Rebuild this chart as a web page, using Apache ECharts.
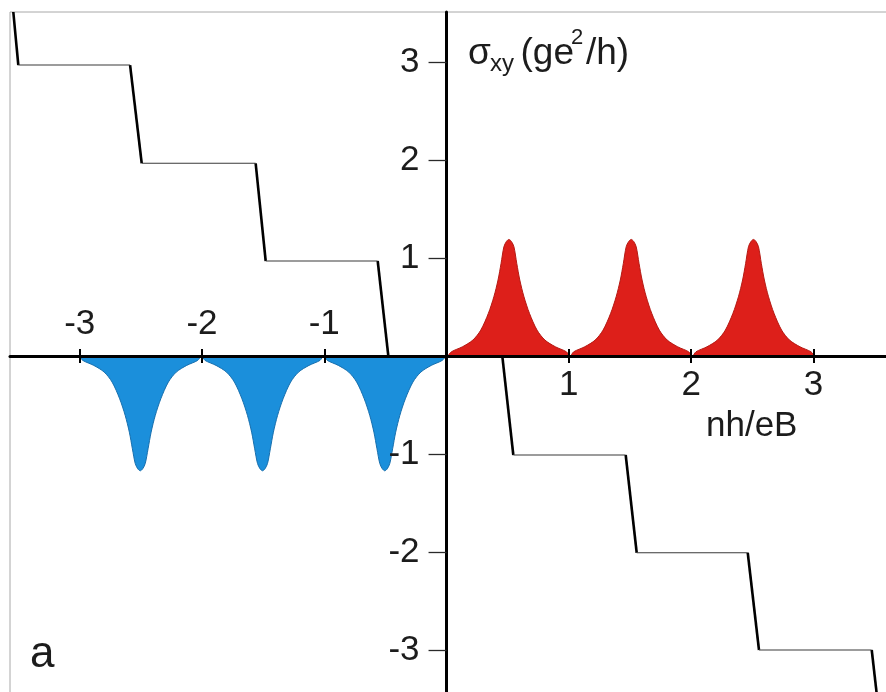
<!DOCTYPE html>
<html>
<head>
<meta charset="utf-8">
<script src="https://cdn.jsdelivr.net/npm/echarts@6/dist/echarts.min.js"></script>
<style>
  html, body { margin: 0; padding: 0; background: #ffffff; }
  #chart { width: 886px; height: 692px; }
</style>
</head>
<body>
<div id="chart"></div>
<script>
// Quantum Hall conductance staircase: corner points of the polyline (x = nh/eB, y = sigma_xy)
const hallX = [-3.543, -3.502, -2.588, -2.493, -1.561, -1.479, -0.563, -0.476,
               0.456, 0.546, 1.465, 1.555, 2.463, 2.555, 3.477, 3.532];
const hallY = [3.51, 2.969, 2.969, 1.967, 1.967, 0.970, 0.970, 0,
               0, -1.009, -1.009, -2.006, -2.006, -2.998, -2.998, -3.6];

// Electron-side density-of-states peaks (red)
const electronX = [
  0.01, 0.04, 0.13, 0.215, 0.28, 0.342, 0.387, 0.421, 0.446, 0.469, 0.49, 0.51,
  0.53, 0.551, 0.574, 0.599, 0.633, 0.678, 0.74, 0.805, 0.89, 0.98, 1.01,
  1.04, 1.13, 1.215, 1.28, 1.342, 1.387, 1.421, 1.446, 1.469, 1.49, 1.51,
  1.53, 1.551, 1.574, 1.599, 1.633, 1.678, 1.74, 1.805, 1.89, 1.98, 2.01,
  2.04, 2.13, 2.215, 2.28, 2.342, 2.387, 2.421, 2.446, 2.469, 2.49, 2.51,
  2.53, 2.551, 2.574, 2.599, 2.633, 2.678, 2.74, 2.805, 2.89, 2.98, 3.01
];
const electronY = [
  0, 0.044, 0.095, 0.163, 0.265, 0.436, 0.605, 0.776, 0.946, 1.115, 1.17, 1.19,
  1.17, 1.115, 0.946, 0.776, 0.605, 0.436, 0.265, 0.163, 0.095, 0.044, 0,
  0.044, 0.095, 0.163, 0.265, 0.436, 0.605, 0.776, 0.946, 1.115, 1.17, 1.19,
  1.17, 1.115, 0.946, 0.776, 0.605, 0.436, 0.265, 0.163, 0.095, 0.044, 0,
  0.044, 0.095, 0.163, 0.265, 0.436, 0.605, 0.776, 0.946, 1.115, 1.17, 1.19,
  1.17, 1.115, 0.946, 0.776, 0.605, 0.436, 0.265, 0.163, 0.095, 0.044, 0
];

// Hole-side density-of-states dips (blue)
const holeX = [
  -3.005, -2.975, -2.885, -2.8, -2.735, -2.673, -2.628, -2.594, -2.569, -2.546, -2.525, -2.505,
  -2.485, -2.464, -2.441, -2.416, -2.382, -2.337, -2.275, -2.21, -2.125, -2.035, -2.005,
  -1.975, -1.885, -1.8, -1.735, -1.673, -1.628, -1.594, -1.569, -1.546, -1.525, -1.505,
  -1.485, -1.464, -1.441, -1.416, -1.382, -1.337, -1.275, -1.21, -1.125, -1.035, -1.005,
  -0.975, -0.885, -0.8, -0.735, -0.673, -0.628, -0.594, -0.569, -0.546, -0.525, -0.505,
  -0.485, -0.464, -0.441, -0.416, -0.382, -0.337, -0.275, -0.21, -0.125, -0.035, -0.005
];
const holeY = [
  0, -0.044, -0.095, -0.163, -0.265, -0.436, -0.605, -0.776, -0.946, -1.095, -1.15, -1.17,
  -1.15, -1.095, -0.946, -0.776, -0.605, -0.436, -0.265, -0.163, -0.095, -0.044, 0,
  -0.044, -0.095, -0.163, -0.265, -0.436, -0.605, -0.776, -0.946, -1.095, -1.15, -1.17,
  -1.15, -1.095, -0.946, -0.776, -0.605, -0.436, -0.265, -0.163, -0.095, -0.044, 0,
  -0.044, -0.095, -0.163, -0.265, -0.436, -0.605, -0.776, -0.946, -1.095, -1.15, -1.17,
  -1.15, -1.095, -0.946, -0.776, -0.605, -0.436, -0.265, -0.163, -0.095, -0.044, 0
];

// Tick positions and which labels sit on each side of the horizontal axis
const yTicks = [-3, -2, -1, 1, 2, 3];
const xTicks = [-3, -2, -1, 1, 2, 3];
const xLabelsBelow = [1, 2, 3];
const xLabelsAbove = [-3, -2, -1];

// Axis ranges
const X_MIN = -3.57, X_MAX = 3.79;
const Y_MIN = -3.6, Y_MAX = 3.51;

// Plot frame (extends past the right and bottom edges of the page)
const FRAME = { left: 10, top: 12, width: 900, height: 697 };
const zeroX = FRAME.left + (0 - X_MIN) / (X_MAX - X_MIN) * FRAME.width;
const zeroY = FRAME.top + (Y_MAX - 0) / (Y_MAX - Y_MIN) * FRAME.height;

const FONT = '"Liberation Sans", Arial, Helvetica, sans-serif';
const INK = '#1c1c1c';

const hidden = { show: false, axisLine: { show: false }, axisTick: { show: false },
                 axisLabel: { show: false }, splitLine: { show: false } };

function zip(xs, ys) { return xs.map((x, i) => [x, ys[i]]); }

// Staircase: risers are drawn heavier than the plateaus
const stepSeries = [];
for (let i = 0; i < hallX.length - 1; i++) {
  const flat = hallY[i] === hallY[i + 1];
  stepSeries.push({
    type: 'line', xAxisIndex: 0, yAxisIndex: 0,
    data: [[hallX[i], hallY[i]], [hallX[i + 1], hallY[i + 1]]],
    symbol: 'none', silent: true, z: 3,
    lineStyle: flat ? { color: '#3a3a3a', width: 1.1 } : { color: '#000000', width: 2.6 }
  });
}

// Axis title pieces: sigma with subscript and unit with superscript
function label(text, x, y, size) {
  return { type: 'text', x: x, y: y, z: 20, silent: true,
           style: { text: text, fill: INK, font: size + 'px ' + FONT, align: 'left', verticalAlign: 'top' } };
}

const option = {
  animation: false,
  backgroundColor: '#ffffff',
  grid: [
    // 0: data area with frame
    { left: FRAME.left, top: FRAME.top, width: FRAME.width, height: FRAME.height,
      show: true, borderColor: '#a8a8a8', borderWidth: 1, backgroundColor: 'transparent',
      containLabel: false, outerBoundsMode: 'none' },
    // 1: horizontal axis, ticks and labels below
    { left: FRAME.left, top: FRAME.top, width: FRAME.width, height: zeroY - FRAME.top,
      containLabel: false, outerBoundsMode: 'none' },
    // 2: ticks and labels above the horizontal axis
    { left: FRAME.left, top: zeroY, width: FRAME.width, height: 100,
      containLabel: false, outerBoundsMode: 'none' },
    // 3: vertical axis
    { left: zeroX, top: FRAME.top, width: 100, height: FRAME.height,
      containLabel: false, outerBoundsMode: 'none' }
  ],
  xAxis: [
    Object.assign({ type: 'value', gridIndex: 0, min: X_MIN, max: X_MAX }, hidden),
    {
      type: 'value', gridIndex: 1, min: X_MIN, max: X_MAX, position: 'bottom', z: 10,
      axisLine: { show: true, onZero: false, lineStyle: { color: '#000000', width: 3 } },
      axisTick: { show: true, customValues: xTicks, length: 7, lineStyle: { color: '#000000', width: 2 } },
      axisLabel: { show: true, customValues: xLabelsBelow, margin: 12, color: INK,
                   fontSize: 35, fontFamily: FONT, hideOverlap: false },
      splitLine: { show: false }
    },
    {
      type: 'value', gridIndex: 2, min: X_MIN, max: X_MAX, position: 'top', z: 10,
      axisLine: { show: false, onZero: false },
      axisTick: { show: true, customValues: xTicks, length: 7, lineStyle: { color: '#000000', width: 2 } },
      axisLabel: { show: true, customValues: xLabelsAbove, margin: 14, color: INK,
                   fontSize: 35, fontFamily: FONT, hideOverlap: false },
      splitLine: { show: false }
    },
    Object.assign({ type: 'value', gridIndex: 3, min: 0, max: 1 }, hidden)
  ],
  yAxis: [
    Object.assign({ type: 'value', gridIndex: 0, min: Y_MIN, max: Y_MAX }, hidden),
    Object.assign({ type: 'value', gridIndex: 1, min: 0, max: 1 }, hidden),
    Object.assign({ type: 'value', gridIndex: 2, min: 0, max: 1 }, hidden),
    {
      type: 'value', gridIndex: 3, min: Y_MIN, max: Y_MAX, position: 'left', z: 10,
      axisLine: { show: true, onZero: false, lineStyle: { color: '#000000', width: 3 } },
      axisTick: { show: true, customValues: yTicks, length: 18, lineStyle: { color: '#2a2a2a', width: 1.3 } },
      axisLabel: { show: true, customValues: yTicks, margin: 27, color: INK,
                   fontSize: 35, fontFamily: FONT, hideOverlap: false },
      splitLine: { show: false }
    }
  ],
  series: [
    {
      name: 'electrons', type: 'line', xAxisIndex: 0, yAxisIndex: 0,
      data: zip(electronX, electronY), smooth: 0.3, symbol: 'none', silent: true, z: 2,
      lineStyle: { color: '#b51a14', width: 1 },
      areaStyle: { color: '#dd1f1a', opacity: 1 }
    },
    {
      name: 'holes', type: 'line', xAxisIndex: 0, yAxisIndex: 0,
      data: zip(holeX, holeY), smooth: 0.3, symbol: 'none', silent: true, z: 2,
      lineStyle: { color: '#176fae', width: 1 },
      areaStyle: { color: '#1b8fdb', opacity: 1 }
    }
  ].concat(stepSeries),
  graphic: [
    label('σ', 468, 35.7, 37),
    label('xy', 490, 52.7, 24),
    label('(ge', 520.5, 35.7, 37),
    label('2', 571, 27.4, 22),
    label('/h)', 586, 35.7, 37),
    label('nh/eB', 706, 408.7, 35),
    label('a', 30, 632.8, 44)
  ]
};

const chart = echarts.init(document.getElementById('chart'), null, { renderer: 'canvas' });
chart.setOption(option);
</script>
</body>
</html>
